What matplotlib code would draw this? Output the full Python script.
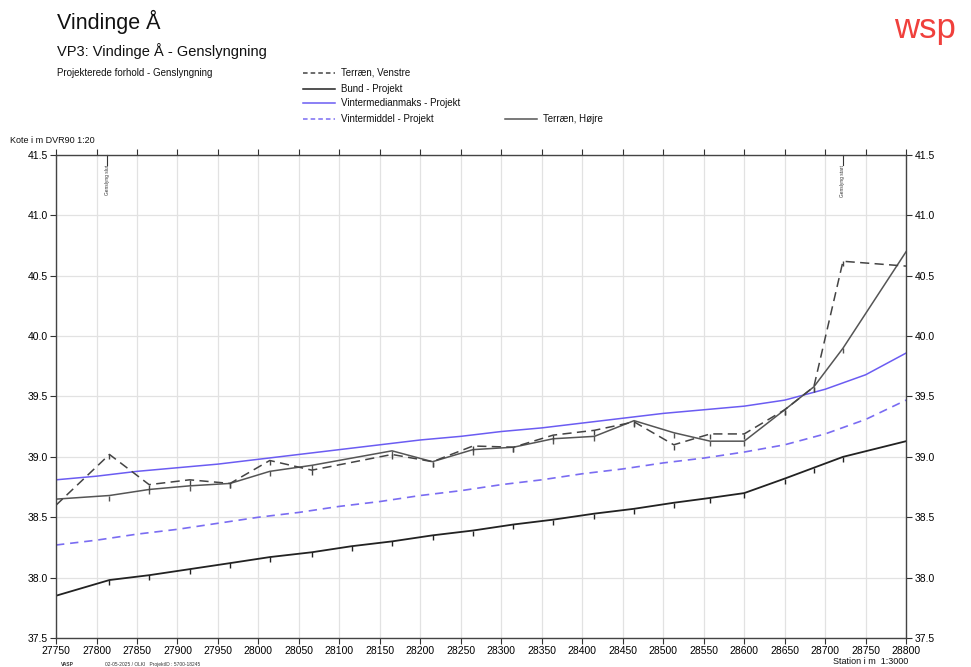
import matplotlib.pyplot as plt

plt.rcParams['font.family'] = ['Liberation Sans', 'DejaVu Sans']

# terrain, left bank (dashed)
st_venstre = [27750, 27816, 27865, 27915, 27965, 28014, 28066, 28165, 28215, 28265, 28315,
              28364, 28415, 28464, 28513, 28558, 28600, 28650, 28686, 28722, 28800]
terraen_venstre = [38.60, 39.02, 38.77, 38.81, 38.78, 38.97, 38.89, 39.02, 38.96, 39.09, 39.08,
                   39.18, 39.22, 39.29, 39.10, 39.19, 39.19, 39.39, 39.58, 40.62, 40.58]

# terrain, right bank (solid grey)
st_hojre = st_venstre
terraen_hojre = [38.65, 38.68, 38.73, 38.76, 38.78, 38.88, 38.93, 39.05, 38.96, 39.06, 39.08,
                 39.15, 39.17, 39.30, 39.20, 39.13, 39.13, 39.39, 39.58, 39.90, 40.70]

# bottom of channel
st_bund = [27750, 27816, 27865, 27915, 27965, 28014, 28066, 28115, 28165, 28215, 28265, 28315,
           28364, 28415, 28464, 28513, 28558, 28600, 28650, 28686, 28722, 28800]
bund = [37.85, 37.98, 38.02, 38.07, 38.12, 38.17, 38.21, 38.26, 38.30, 38.35, 38.39, 38.44,
        38.48, 38.53, 38.57, 38.62, 38.66, 38.70, 38.82, 38.91, 39.00, 39.13]

# water levels
st_vand = [27750, 27800, 27850, 27900, 27950, 28000, 28050, 28100, 28150, 28200, 28250, 28300,
           28350, 28400, 28450, 28500, 28550, 28600, 28650, 28700, 28750, 28800]
vintermedianmaks = [38.81, 38.84, 38.88, 38.91, 38.94, 38.98, 39.02, 39.06, 39.10, 39.14, 39.17, 39.21,
                    39.24, 39.28, 39.32, 39.36, 39.39, 39.42, 39.47, 39.56, 39.68, 39.86]
vintermiddel = [38.27, 38.31, 38.36, 38.40, 38.45, 38.50, 38.54, 38.59, 38.63, 38.68, 38.72, 38.77,
                38.81, 38.86, 38.90, 38.95, 38.99, 39.04, 39.10, 39.19, 39.31, 39.47]

x_ticks = list(range(27750, 28801, 50))
y_ticks = [37.5, 38.0, 38.5, 39.0, 39.5, 40.0, 40.5, 41.0, 41.5]
markers_top = [(27813, 'Genslyng slut'), (28722, 'Genslyng start')]


def main():
    fig = plt.figure(figsize=(9.71, 6.67), dpi=100)
    ax = fig.add_axes([0.0577, 0.0435, 0.8755, 0.7241])

    tick_style = dict(marker=3, ms=3.5, mew=1)
    ax.plot(st_vand, vintermedianmaks, color='#6b5cf2', lw=1.1)
    ax.plot(st_vand, vintermiddel, color='#7a6cf2', lw=1.2, ls=(0, (5, 3.5)))
    ax.plot(st_bund, bund, color='#222222', lw=1.3, markevery=range(1, len(bund) - 1), **tick_style)
    ax.plot(st_hojre, terraen_hojre, color='#555555', lw=1.1,
            markevery=range(1, len(terraen_hojre) - 1), **tick_style)
    ax.plot(st_venstre, terraen_venstre, color='#444444', lw=1.1, ls=(0, (6, 3.5)),
            markevery=range(1, len(terraen_venstre) - 1), **tick_style)

    ax.set_xlim(27750, 28800)
    ax.set_ylim(37.5, 41.5)
    ax.set_xticks(x_ticks)
    ax.set_yticks(y_ticks)
    ax.set_yticklabels(['%.1f' % v for v in y_ticks])
    ax.grid(color='#e2e2e2', lw=0.9)
    ax.set_axisbelow(True)
    ax.tick_params(axis='x', which='both', direction='out', top=True, bottom=True, labelsize=7.5,
                   length=4, color='#333333', pad=1.5)
    ax.tick_params(axis='y', direction='out', left=True, right=True, labelleft=True, labelright=True,
                   labelsize=7.5, length=4, color='#333333', pad=2)
    for sp in ax.spines.values():
        sp.set_color('#444444')
        sp.set_linewidth(1.0)

    for s, label in markers_top:
        ax.plot([s, s], [41.5, 41.42], color='#333333', lw=0.8, clip_on=False)
        ax.text(s, 41.415, label, rotation=90, fontsize=3.5, ha='center', va='top', color='#333333')

    fig.text(0.059, 0.967, 'Vindinge Å', fontsize=15.5, va='center', color='#111111')
    fig.text(0.059, 0.924, 'VP3: Vindinge Å - Genslyngning', fontsize=10.5, va='center', color='#111111')
    fig.text(0.059, 0.891, 'Projekterede forhold - Genslyngning', fontsize=7, va='center', color='#111111')
    fig.text(0.921, 0.957, 'wsp', fontsize=25, color='#f0403c', ha='left', va='center')

    legend_items = [
        (0.312, 0.891, '#444444', (0, (3, 2)), 'Terræn, Venstre'),
        (0.312, 0.867, '#222222', '-', 'Bund - Projekt'),
        (0.312, 0.845, '#6b5cf2', '-', 'Vintermedianmaks - Projekt'),
        (0.312, 0.822, '#7a6cf2', (0, (3, 2)), 'Vintermiddel - Projekt'),
        (0.52, 0.822, '#555555', '-', 'Terræn, Højre'),
    ]
    for x, y, c, ls, label in legend_items:
        fig.add_artist(plt.Line2D([x, x + 0.033], [y, y], color=c, ls=ls, lw=1.1))
        fig.text(x + 0.039, y, label, fontsize=7, va='center', color='#111111')

    fig.text(0.010, 0.789, 'Kote i m DVR90 1:20', fontsize=6.5, va='center', color='#111111')
    fig.text(0.935, 0.008, 'Station i m  1:3000', fontsize=6.5, ha='right', va='center', color='#111111')
    fig.text(0.063, 0.004, 'VASP', fontsize=3.5, va='center', color='#333333', weight='bold')
    fig.text(0.108, 0.004, '02-05-2025 / OLKI   ProjektID : 5700-18245', fontsize=3.5, va='center',
             color='#333333')

    fig.savefig('out.png', dpi=100)


if __name__ == '__main__':
    main()
